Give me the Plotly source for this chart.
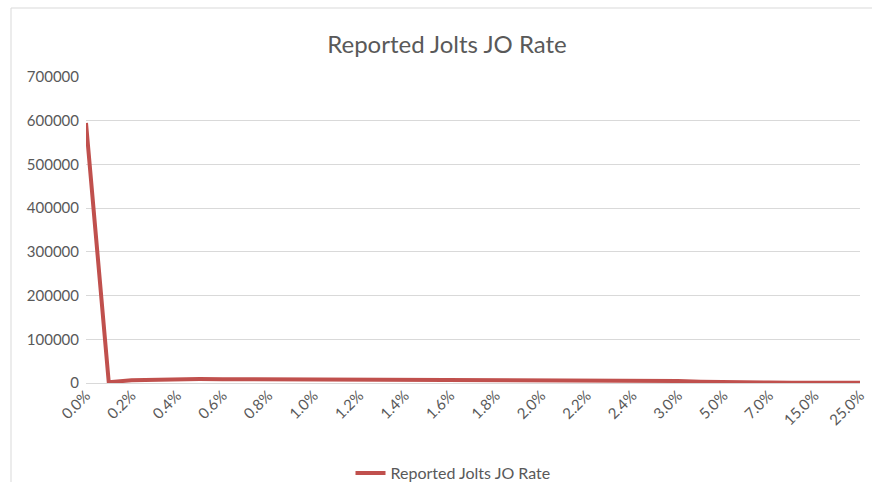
import plotly.graph_objects as go

categories = ["0.0%", "0.1%", "0.2%", "0.3%", "0.4%", "0.5%", "0.6%", "0.7%", "0.8%", "0.9%",
              "1.0%", "1.1%", "1.2%", "1.3%", "1.4%", "1.5%", "1.6%", "1.7%", "1.8%", "1.9%",
              "2.0%", "2.1%", "2.2%", "2.3%", "2.4%", "2.5%", "3.0%", "4.0%", "5.0%", "6.0%",
              "7.0%", "10.0%", "15.0%", "20.0%", "25.0%"]
values = [595000, 1500, 6500, 8000, 9000, 9000, 8800, 8700, 8600, 8500,
          8300, 8000, 7800, 7700, 7600, 7400, 7200, 7000, 6900, 6800,
          6700, 6000, 5500, 5400, 5300, 5200, 4800, 3000, 1800, 1200,
          900, 700, 500, 400, 300]
shown_labels = categories[::2]
y_ticks = [0, 100000, 200000, 300000, 400000, 500000, 600000, 700000]

font = "Lato, 'Open Sans', sans-serif"
grey = "#595959"

fig = go.Figure()
fig.add_trace(go.Scatter(x=categories, y=values, mode="lines",
                         name="Reported Jolts JO Rate",
                         line=dict(color="#c0504d", width=4)))

fig.update_layout(
    width=872, height=482,
    margin=dict(l=86, r=12, t=77, b=99, autoexpand=False),
    paper_bgcolor="white", plot_bgcolor="white",
    font=dict(family=font, color=grey, size=15),
    title=dict(text="Reported Jolts JO Rate", x=447 / 872, xanchor="center",
               y=1 - 45 / 482, yanchor="middle",
               font=dict(size=24, color=grey, family=font)),
    showlegend=True,
    legend=dict(orientation="h", x=(453 - 86) / 774, xanchor="center",
                y=(383 - 473) / 306, yanchor="middle", bgcolor="rgba(0,0,0,0)",
                font=dict(size=16, color=grey)),
    xaxis=dict(type="category", range=[0, len(categories) - 1], automargin=False,
               tickmode="array", tickvals=shown_labels, ticktext=shown_labels,
               tickangle=-45, showgrid=False, showline=False, zeroline=False,
               ticks="", tickfont=dict(size=15, color=grey)),
    yaxis=dict(range=[0, 700000], tickvals=y_ticks, tickformat="d", automargin=False,
               showgrid=True, gridcolor="#d9d9d9", gridwidth=1,
               zeroline=True, zerolinecolor="#d9d9d9", zerolinewidth=1,
               showline=False, ticks="", ticklabelstandoff=6,
               tickfont=dict(size=15, color=grey)),
)
fig.add_shape(type="rect", xref="paper", yref="paper",
              x0=(11 - 86) / 774, x1=1.03, y0=-0.4, y1=(383 - 8) / 306,
              line=dict(color="#d9d9d9", width=1), layer="below")

fig.write_html("out.html")
